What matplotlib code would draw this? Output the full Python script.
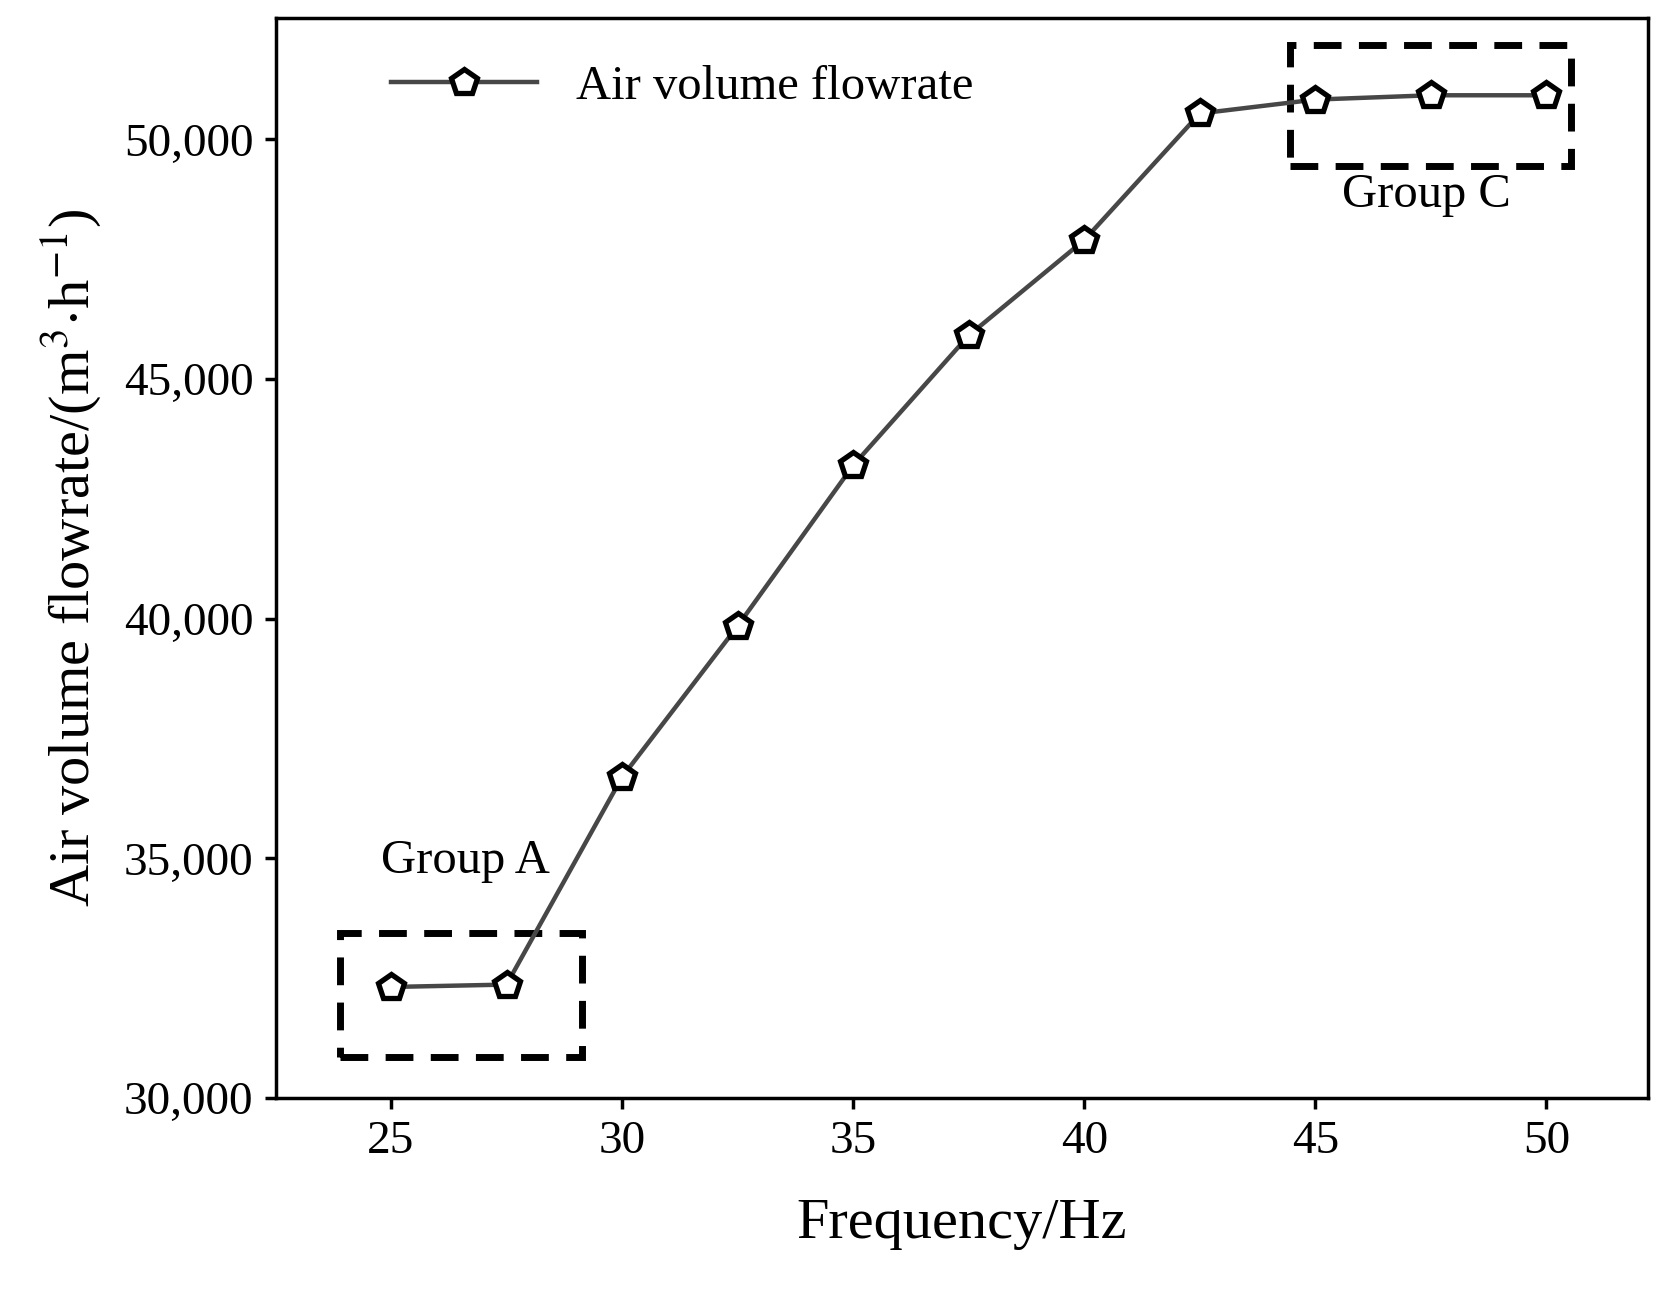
import matplotlib.pyplot as plt
from matplotlib.patches import Rectangle
from matplotlib.ticker import FuncFormatter

plt.rcParams['font.family'] = ['Liberation Serif', 'DejaVu Serif']
plt.rcParams['mathtext.fontset'] = 'stix'

freq = [25, 27.5, 30, 32.5, 35, 37.5, 40, 42.5, 45, 47.5, 50]
flow = [32320, 32370, 36700, 39850, 43200, 45910, 47900, 50540, 50830, 50920, 50920]

fig = plt.figure(figsize=(16.8, 12.92), dpi=100)
ax = fig.add_axes([0.164, 0.150, 0.817, 0.836])

ax.plot(freq, flow, color='#474747', lw=3.2, marker='p', markersize=19,
        markerfacecolor='white', markeredgecolor='black', markeredgewidth=3.8,
        label='Air volume flowrate')

ax.add_patch(Rectangle((23.9, 30850), 29.13 - 23.9, 33440 - 30850, fill=False,
                       ls=(0, (4, 2.5)), lw=5, ec='black', clip_on=False))
ax.add_patch(Rectangle((44.45, 49440), 50.53 - 44.45, 51966 - 49440, fill=False,
                       ls=(0, (4, 2.5)), lw=5, ec='black', clip_on=False))
ax.text(26.6, 34950, 'Group A', fontsize=35, ha='center', va='center')
ax.text(47.4, 48850, 'Group C', fontsize=35, ha='center', va='center')

ax.set_xlim(22.5, 52.2)
ax.set_ylim(30000, 52530)
ax.set_xticks([25, 30, 35, 40, 45, 50])
ax.set_yticks([30000, 35000, 40000, 45000, 50000])
ax.yaxis.set_major_formatter(FuncFormatter(lambda v, p: f'{int(v):,}'))
ax.tick_params(labelsize=34, width=2.5, length=8, direction='out', pad=8)
for s in ax.spines.values():
    s.set_linewidth(2.5)

ax.set_xlabel('Frequency/Hz', fontsize=42, labelpad=25)
ax.set_ylabel(r'Air volume flowrate/(m$^{3}$$\cdot$h$^{-1}$)', fontsize=42, labelpad=14)

ax.legend(loc='upper left', fontsize=35, frameon=False, handlelength=3,
          bbox_to_anchor=(0.07, 0.975), borderaxespad=0)

fig.savefig('out.png')
